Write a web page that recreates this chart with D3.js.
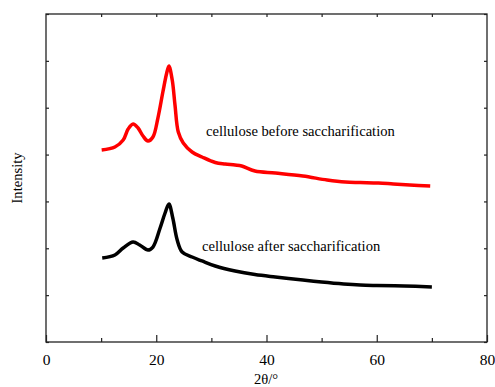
<!DOCTYPE html>
<html>
<head>
<meta charset="utf-8">
<script src="https://cdn.jsdelivr.net/npm/d3@7"></script>
<style>
  body { margin: 0; background: #fff; }
</style>
</head>
<body>
<div class="container"></div>
<script>
// 2θ positions (degrees) and intensities
const beforeAngle = [10.1, 12.5, 14, 14.9, 15.8, 16.7, 17.6, 18.5, 19.4, 20.3, 21.2, 21.9, 22.3, 22.9, 23.4, 24, 24.9, 26.5, 28.3, 30.7, 32.5, 34.3, 35.5, 37.9, 41.6, 46.6, 51, 54.3, 57, 60.3, 63, 66, 69.7];
const beforeCounts = [4097, 4161, 4311, 4545, 4652, 4567, 4396, 4289, 4375, 4780, 5335, 5740, 5890, 5591, 5058, 4481, 4247, 4055, 3948, 3830, 3798, 3777, 3756, 3649, 3606, 3542, 3457, 3414, 3404, 3393, 3372, 3350, 3329];

const afterAngle = [10.2, 12.5, 14, 15.8, 17, 18.5, 19.4, 20.7, 21.6, 22.3, 23, 23.8, 24.7, 26.5, 28.3, 30.7, 34.3, 37.9, 41.6, 46.6, 50, 54, 57, 60, 65, 70];
const afterCounts = [1793, 1857, 2006, 2134, 2070, 1963, 2027, 2433, 2753, 2945, 2646, 2177, 1921, 1814, 1729, 1622, 1515, 1440, 1387, 1323, 1280, 1238, 1216, 1206, 1195, 1174];

const xTicks = [0, 20, 40, 60, 80];
const yTicks = [0, 1000, 2000, 3000, 4000, 5000, 6000, 7000];
const labels = ['cellulose before saccharification', 'cellulose after saccharification'];

const width = 495, height = 387;
const m = {left: 46, right: 8, top: 14, bottom: 45};
const serif = '"Times New Roman", "Liberation Serif", "DejaVu Serif", serif';

const svg = d3.select('.container').append('svg')
    .attr('width', width)
    .attr('height', height);

const x = d3.scaleLinear().domain([0, 80]).range([m.left, width - m.right]);
const y = d3.scaleLinear().domain([0, 7000]).range([height - m.bottom, m.top]);

// frame
svg.append('rect')
    .attr('x', x(0)).attr('y', y(7000))
    .attr('width', x(80) - x(0)).attr('height', y(0) - y(7000))
    .attr('fill', 'none').attr('stroke', '#222').attr('stroke-width', 1.3);

// bottom axis, ticks inward
const axBottom = svg.append('g')
    .attr('transform', `translate(0,${y(0)})`)
    .call(d3.axisBottom(x).tickValues(xTicks).tickSizeInner(-7).tickSizeOuter(0).tickPadding(12));
axBottom.append('g').call(d3.axisBottom(x).tickValues([10, 30, 50, 70]).tickSize(-4).tickFormat(''));

svg.append('g')
    .attr('transform', `translate(0,${y(7000)})`)
    .call(d3.axisTop(x).tickValues(d3.range(10, 80, 10)).tickSize(-3).tickFormat(''));

svg.append('g')
    .attr('transform', `translate(${x(0)},0)`)
    .call(d3.axisLeft(y).tickValues(yTicks).tickSize(-3).tickFormat(''));

svg.append('g')
    .attr('transform', `translate(${x(80)},0)`)
    .call(d3.axisRight(y).tickValues(yTicks).tickSize(-3).tickFormat(''));

svg.selectAll('.domain').remove();
svg.selectAll('.tick line').attr('stroke', '#222').attr('stroke-width', 1.2);
axBottom.selectAll('.tick text')
    .attr('font-size', 15.5)
    .attr('fill', '#000');

// curves
const line = d3.line()
    .x(d => x(d[0]))
    .y(d => y(d[1]))
    .curve(d3.curveCatmullRom.alpha(0.5));

svg.append('path')
    .datum(beforeAngle.map((a, i) => [a, beforeCounts[i]]))
    .attr('d', line)
    .attr('fill', 'none')
    .attr('stroke', '#ff0000')
    .attr('stroke-width', 3.5)
    .attr('stroke-linejoin', 'round');

svg.append('path')
    .datum(afterAngle.map((a, i) => [a, afterCounts[i]]))
    .attr('d', line)
    .attr('fill', 'none')
    .attr('stroke', '#000')
    .attr('stroke-width', 3.5)
    .attr('stroke-linejoin', 'round');

// annotations
svg.append('text')
    .attr('x', 206).attr('y', 136)
    .attr('font-size', 14.6)
    .text(labels[0]);

svg.append('text')
    .attr('x', 202).attr('y', 251)
    .attr('font-size', 14.6)
    .text(labels[1]);

// axis titles
svg.append('text')
    .attr('x', 266).attr('y', 384)
    .attr('text-anchor', 'middle')
    .attr('font-size', 14.6)
    .text('2θ/°');

svg.append('text')
    .attr('transform', `translate(22,${(y(0) + y(7000)) / 2}) rotate(-90)`)
    .attr('text-anchor', 'middle')
    .attr('font-size', 14.6)
    .text('Intensity');

svg.selectAll('text').style('font-family', serif);
</script>
</body>
</html>
